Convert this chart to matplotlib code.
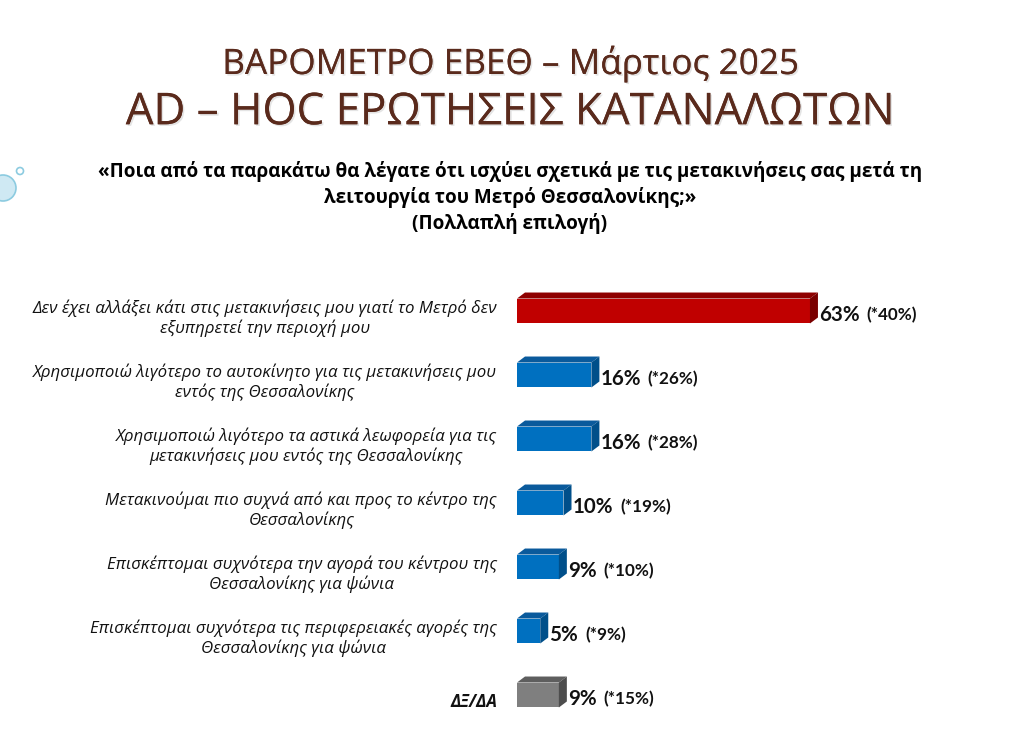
import matplotlib
matplotlib.use("Agg")
import matplotlib.pyplot as plt
from matplotlib.patches import Polygon, Circle
import matplotlib.patheffects as pe

# data
categories = [
    "Δεν έχει αλλάξει κάτι στις μετακινήσεις μου γιατί το Μετρό δεν\nεξυπηρετεί την περιοχή μου",
    "Χρησιμοποιώ λιγότερο το αυτοκίνητο για τις μετακινήσεις μου\nεντός της Θεσσαλονίκης",
    "Χρησιμοποιώ λιγότερο τα αστικά λεωφορεία για τις\nμετακινήσεις μου εντός της Θεσσαλονίκης",
    "Μετακινούμαι πιο συχνά από και προς το κέντρο της\nΘεσσαλονίκης",
    "Επισκέπτομαι συχνότερα την αγορά του κέντρου της\nΘεσσαλονίκης για ψώνια",
    "Επισκέπτομαι συχνότερα τις περιφερειακές αγορές της\nΘεσσαλονίκης για ψώνια",
    "ΔΞ/ΔΑ",
]
values = [63, 16, 16, 10, 9, 5, 9]
previous = [40, 26, 28, 19, 10, 9, 15]
kinds = ["red", "blue", "blue", "blue", "blue", "blue", "gray"]

# front / top / side colours
palette = {
    "red": ("#c00000", "#8e0000", "#7a0000"),
    "blue": ("#0070c0", "#0a5a9c", "#004f8a"),
    "gray": ("#7f7f7f", "#5e5e5e", "#4d4d4d"),
}

W, H = 1020, 734
fig = plt.figure(figsize=(W / 100, H / 100), dpi=100)
fig.patch.set_facecolor("white")

title_font = ["Open Sans", "Noto Sans", "DejaVu Sans"]
shadow = [pe.withSimplePatchShadow(offset=(1.2, -1.2), shadow_rgbFace="#d9d9d9", alpha=0.7), pe.Normal()]

fig.text(0.5, 1 - 64 / H, "ΒΑΡΟΜΕΤΡΟ ΕΒΕΘ – Μάρτιος 2025", ha="center", va="center",
         fontsize=25.3, color="#5a2a1c", family=title_font, path_effects=shadow)
fig.text(0.5, 1 - 113 / H, "AD – HOC ΕΡΩΤΗΣΕΙΣ ΚΑΤΑΝΑΛΩΤΩΝ", ha="center", va="center",
         fontsize=31.6, color="#5a2a1c", family=title_font, path_effects=shadow)

q_font = ["Open Sans", "DejaVu Sans"]
q_lines = ["«Ποια από τα παρακάτω θα λέγατε ότι ισχύει σχετικά με τις μετακινήσεις σας μετά τη",
           "λειτουργία του Μετρό Θεσσαλονίκης;»",
           "(Πολλαπλή επιλογή)"]
for i, line in enumerate(q_lines):
    fig.text(0.5, 1 - (171 + 26 * i) / H, line, ha="center", va="center",
             fontsize=13.6, fontweight="bold", family=q_font)

# bubble decoration on the left edge
deco = fig.add_axes([0, 0, 1, 1], zorder=-1)
deco.set_xlim(0, W)
deco.set_ylim(H, 0)
deco.axis("off")
deco.add_patch(Circle((3, 188), 13, facecolor="#cfe9f3", edgecolor="#8ccbe0", lw=1.2))
deco.add_patch(Circle((20, 171), 3.5, facecolor="white", edgecolor="#8ccbe0", lw=1.2))

# bar area
px_per_unit = 4.65
ax = fig.add_axes([517 / W, 1 - 727 / H, 400 / W, 448 / H])
ax.set_xlim(0, 400 / px_per_unit)
ax.set_ylim(6.5, -0.5)
ax.axis("off")

bh = 0.39
dx = 8 / px_per_unit
dy = 6 / 64
ypos = list(range(len(values)))

fronts = [palette[k][0] for k in kinds]
ax.barh(ypos, values, height=bh, color=fronts, zorder=3)

label_font = ["Open Sans", "Noto Sans", "DejaVu Sans"]
num_font = ["Lato", "DejaVu Sans"]
for y, v, p, k, cat in zip(ypos, values, previous, kinds, categories):
    _, top_c, side_c = palette[k]
    top = y - bh / 2
    bot = y + bh / 2
    ax.add_patch(Polygon([(0, top), (v, top), (v + dx, top - dy), (dx, top - dy)],
                         closed=True, facecolor=top_c, edgecolor="none", zorder=3))
    ax.add_patch(Polygon([(v, top), (v + dx, top - dy), (v + dx, bot - dy), (v, bot)],
                         closed=True, facecolor=side_c, edgecolor="none", zorder=3))
    t = ax.text(v + dx + 1 / px_per_unit, y + 0.06, f"{v}%", ha="left", va="center",
                fontsize=14.8, fontweight="bold", family=num_font, color="#111111")
    ax.annotate(f"(*{p}%)", xy=(1, 0.5), xycoords=t, xytext=(5, 0), textcoords="offset points",
                ha="left", va="center", fontsize=12.3, fontweight="bold", family=num_font, color="#111111")
    ax.text(-20 / px_per_unit, y + 7 / 64, cat, ha="right", va="center", multialignment="center",
            fontsize=12.2, style="italic", family=label_font, linespacing=1.2, color="#111111",
            fontweight="bold" if k == "gray" else "normal")

fig.savefig("out.png", dpi=100)
